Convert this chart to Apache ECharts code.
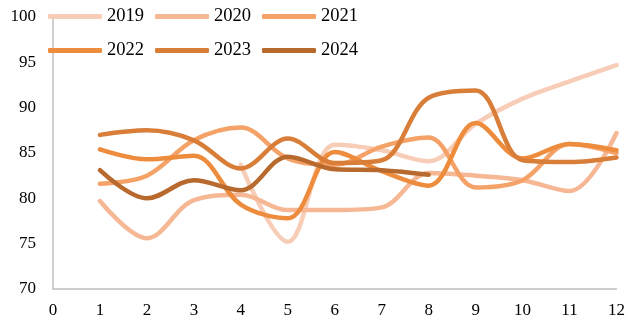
<!DOCTYPE html>
<html>
<head>
<meta charset="utf-8">
<script src="https://cdn.jsdelivr.net/npm/echarts@6/dist/echarts.min.js"></script>
<style>html,body{margin:0;padding:0;background:#fff}#c{width:628px;height:321px}</style>
</head>
<body>
<div id="c"></div>
<script>
const months = [1,2,3,4,5,6,7,8,9,10,11,12];
const s2019 = [null,null,null,83.7,75.2,85.9,85.3,84.1,88.2,91.0,92.9,94.7];
const s2020 = [79.7,75.6,79.8,80.4,78.7,78.7,79.0,82.8,82.5,82.0,80.8,87.2];
const s2021 = [81.6,82.5,86.4,87.8,84.4,83.7,85.7,86.7,81.2,82.0,86.0,85.0];
const s2022 = [85.4,84.3,84.7,79.3,77.8,85.1,83.0,81.4,88.3,84.4,86.0,85.3];
const s2023 = [87.0,87.5,86.4,83.3,86.6,83.9,84.2,91.1,91.9,84.2,84.0,84.5];
const s2024 = [83.1,80.0,82.0,80.9,84.6,83.2,83.1,82.6];
const yTicks = [70,75,80,85,90,95,100];
const names = ['2019','2020','2021','2022','2023','2024'];
const colors = ['#F8CDB8','#F6B894','#F5A268','#EE8C3E','#D87E39','#B86A2E'];
const allData = [s2019,s2020,s2021,s2022,s2023,s2024];

const font = '"Liberation Serif","Times New Roman",serif';
const series = names.map((n,i)=>({
  name:n, type:'line', smooth:0.35, showSymbol:false, symbol:'none',
  connectNulls:false,
  data: allData[i].map((v,j)=>[months[j], v]),
  lineStyle:{width:4.5,color:colors[i],cap:'round'},
  itemStyle:{color:colors[i]},
  z: 2+i
}));

const legendBase = {
  orient:'horizontal', left:48, padding:0, icon:'roundRect', itemWidth:54, itemHeight:5, itemGap:11,
  textStyle:{fontFamily:font,fontSize:18.5,color:'#000'},
  selectedMode:false
};
const chart = echarts.init(document.getElementById('c'),null,{renderer:'canvas'});
chart.setOption({
  animation:false,
  backgroundColor:'#fff',
  legend:[
    Object.assign({},legendBase,{top:7,data:names.slice(0,3)}),
    Object.assign({},legendBase,{top:41,data:names.slice(3)})
  ],
  grid:{left:53,right:8,top:17,bottom:32,containLabel:false},
  xAxis:{type:'value',min:0,max:12,interval:1,
    axisLine:{show:true,lineStyle:{color:'#BFBFBF',width:1.5}},
    axisTick:{show:false},splitLine:{show:false},
    axisLabel:{fontFamily:font,fontSize:17,color:'#000',margin:13}},
  yAxis:{type:'value',min:yTicks[0],max:yTicks[yTicks.length-1],interval:5,
    axisLine:{show:true,lineStyle:{color:'#BFBFBF',width:1.5}},
    axisTick:{show:false},splitLine:{show:false},
    axisLabel:{fontFamily:font,fontSize:17,color:'#000',margin:17}},
  series:series
});
</script>
</body>
</html>
